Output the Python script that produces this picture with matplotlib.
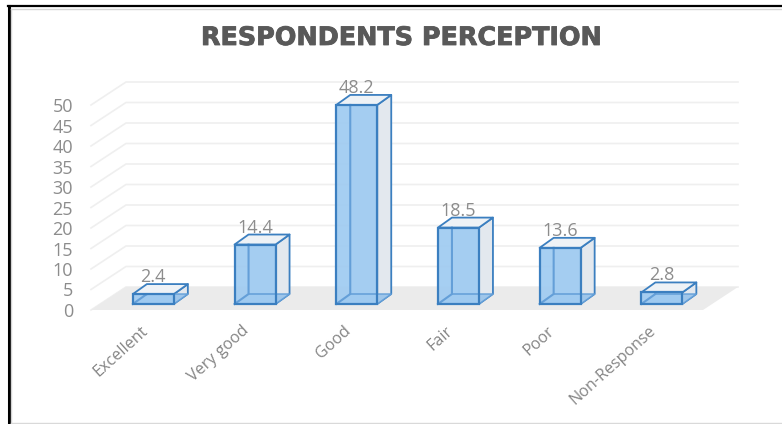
import matplotlib
matplotlib.use("Agg")
import matplotlib.pyplot as plt
from matplotlib.patches import Polygon
from matplotlib.lines import Line2D
import matplotlib.patheffects as pe

W, H = 782, 424

categories = ["Excellent", "Very good", "Good", "Fair", "Poor", "Non-Response"]
values = [2.4, 14.4, 48.2, 18.5, 13.6, 2.8]
y_ticks = [0, 5, 10, 15, 20, 25, 30, 35, 40, 45, 50]
title = "RESPONDENTS PERCEPTION"

TEXT = "#8c8c8c"
EDGE = "#3b7fc0"
EDGE_BACK = "#649fd8"
FRONT = "#9fcbf1"


def px_axes(fig, left, right, top, bottom):
    """Axes placed by pixel edges, measured from the top-left corner."""
    return fig.add_axes([left / W, 1 - bottom / H, (right - left) / W, (bottom - top) / H])


fig = plt.figure(figsize=(W / 100, H / 100), dpi=100, facecolor="white")

# Outer frame
frame = fig.add_axes([0, 0, 1, 1], zorder=0)
frame.set_xlim(0, W)
frame.set_ylim(H, 0)
frame.axis("off")
frame.add_line(Line2D([8.5, 8.5], [6, H], color="black", lw=2.2))
frame.add_line(Line2D([8, W], [6.3, 6.3], color="black", lw=1.6))
frame.add_line(Line2D([11, 11], [9, 423], color="#d4d4d4", lw=1.0))
frame.add_line(Line2D([11, W], [8.6, 8.6], color="#d4d4d4", lw=1.0))
frame.add_line(Line2D([11, W], [423, 423], color="#d9d9d9", lw=1.0))

# Wall gridlines and floor of the 3-D box
wall = px_axes(fig, 91, 703, 105, 310)
wall.set_zorder(1)
wall.set_xlim(0, 1)
wall.set_ylim(0, 50)
wall.patch.set_alpha(0)
for s in wall.spines.values():
    s.set_visible(False)
wall.set_xticks([])
wall.set_yticks(y_ticks)
wall.tick_params(axis="y", length=0, pad=13, labelsize=13, labelcolor=TEXT)
for lab in wall.get_yticklabels():
    lab.set_fontfamily("Open Sans")
depth_x, depth_y = 35 / 612, 23 / 4.1
for v in y_ticks:
    wall.plot([0, depth_x, 1 + depth_x], [v, v + depth_y, v + depth_y],
              color="#efefef", lw=1.2, clip_on=False, solid_joinstyle="miter")
wall.add_patch(Polygon([(0, 0), (depth_x, depth_y), (1 + depth_x, depth_y), (1, 0)],
                       closed=True, fc="#ebebeb", ec="none", clip_on=False, zorder=3))

# Bars: one category step is 101.7 px, one value unit is 4.13 px
bars = px_axes(fig, 102.5, 712.7, 304 - 4.13 * 50, 304)
bars.set_zorder(2)
bars.set_xlim(-0.5, 5.5)
bars.set_ylim(0, 50)
bars.axis("off")
half = 20.5 / 101.7
dx, dy = 14 / 101.7, 10 / 4.13
label_gap = 7 / 4.13

for i, v in enumerate(values):
    l, r = i - half, i + half
    bk = dict(clip_on=False, joinstyle="round")
    # data label sits behind the box, so the lid can overlap its lower edge
    bars.text(i, v + dy + label_gap, f"{v:.1f}", ha="center", va="center", color=TEXT,
              fontsize=13, family="Open Sans", zorder=1, clip_on=False)
    # back, side, top and bottom faces
    bars.add_patch(Polygon([(l + dx, dy), (r + dx, dy), (r + dx, v + dy), (l + dx, v + dy)],
                           fc="#e7ecf1", ec="none", zorder=2, **bk))
    bars.add_patch(Polygon([(r, 0), (r + dx, dy), (r + dx, v + dy), (r, v)],
                           fc="#e3e8ee", ec=EDGE, lw=1.3, zorder=3, **bk))
    bars.add_patch(Polygon([(l, v), (l + dx, v + dy), (r + dx, v + dy), (r, v)],
                           fc="#eef2f6", ec=EDGE, lw=1.3, zorder=3, **bk))
    bars.add_patch(Polygon([(l, 0), (l + dx, dy), (r + dx, dy), (r, 0)],
                           fc="#9fc6ea", ec=EDGE_BACK, lw=1.0, zorder=3, **bk))
    bars.bar(i, v, width=2 * half, color=FRONT, alpha=0.92, zorder=5, clip_on=False)
    # hidden edges seen through the front face
    bars.plot([l, l + dx, l + dx], [0, dy, v], color=EDGE_BACK, lw=1.5, zorder=6, clip_on=False)
    bars.plot([l + dx, r], [dy, dy], color=EDGE_BACK, lw=1.1, zorder=6, clip_on=False)
    bars.bar(i, v, width=2 * half, fill=False, edgecolor=EDGE, linewidth=1.6, zorder=7, clip_on=False)

# Category labels, rotated and ending under each bar
for i, name in enumerate(categories):
    bars.text(i - 0.13, -4.6, name, rotation=42, rotation_mode="anchor", ha="right", va="top",
              color="#858585", fontsize=11.6, family="Open Sans", clip_on=False)

fig.text(401.5 / W, 1 - 38 / H, title, ha="center", va="center", color="#595959",
         fontsize=18.3, fontweight="bold", family="DejaVu Sans",
         path_effects=[pe.withStroke(linewidth=0.6, foreground="#595959")])

fig.savefig("out.png", dpi=100)
